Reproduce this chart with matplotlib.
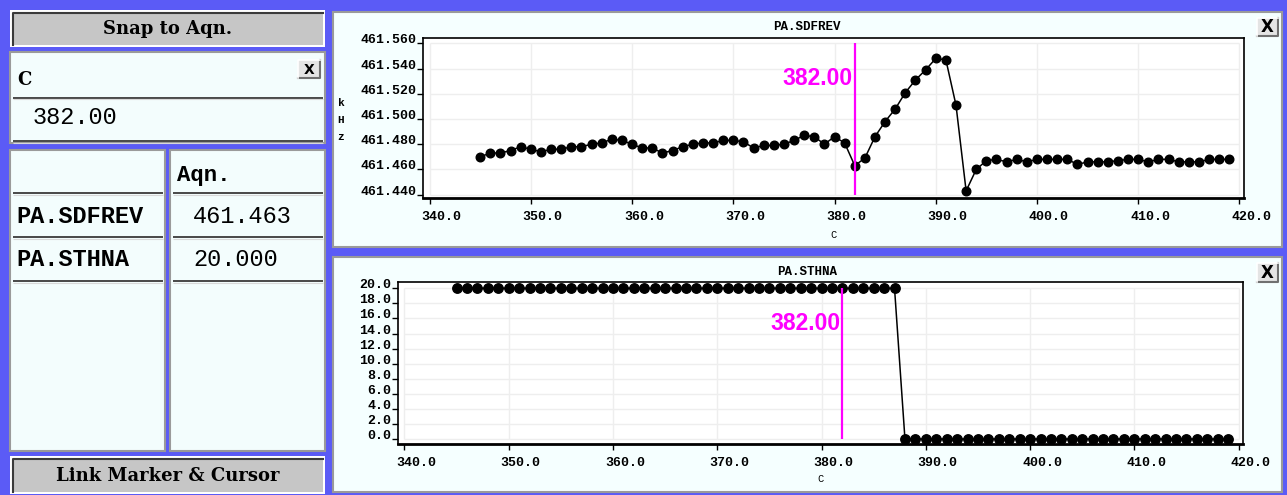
import matplotlib
matplotlib.use('Agg')
import matplotlib.pyplot as plt
from matplotlib.patches import Rectangle
from matplotlib.transforms import ScaledTranslation

plt.rcParams['font.family'] = ['Liberation Mono', 'DejaVu Sans']
plt.rcParams['font.weight'] = 'bold'

# cursor and readout table
cursor_x = 382.0
cursor_text = '382.00'
axis_name = 'C'
readout_header = 'Aqn.'
readout_names = ['PA.SDFREV', 'PA.STHNA']
readout_values = ['461.463', '20.000']

# samples (C)
sample_x = [345, 346, 347, 348, 349, 350, 351, 352, 353, 354, 355, 356, 357, 358, 359,
            360, 361, 362, 363, 364, 365, 366, 367, 368, 369, 370, 371, 372, 373, 374,
            375, 376, 377, 378, 379, 380, 381, 382, 383, 384, 385, 386, 387, 388, 389,
            390, 391, 392, 393, 394, 395, 396, 397, 398, 399, 400, 401, 402, 403, 404,
            405, 406, 407, 408, 409, 410, 411, 412, 413, 414, 415, 416, 417, 418, 419]

# PA.SDFREV, kHz
sdfrev = [461.470, 461.473, 461.473, 461.475, 461.478, 461.476, 461.474, 461.476, 461.476, 461.478,
          461.478, 461.480, 461.481, 461.484, 461.483, 461.480, 461.477, 461.477, 461.473, 461.475,
          461.478, 461.480, 461.481, 461.481, 461.483, 461.483, 461.482, 461.477, 461.479, 461.479,
          461.480, 461.483, 461.487, 461.486, 461.480, 461.486, 461.481, 461.463, 461.469, 461.486,
          461.498, 461.508, 461.521, 461.531, 461.539, 461.548, 461.547, 461.511, 461.443, 461.460,
          461.467, 461.468, 461.466, 461.468, 461.466, 461.468, 461.468, 461.468, 461.468, 461.464,
          461.466, 461.466, 461.466, 461.467, 461.468, 461.468, 461.466, 461.468, 461.468, 461.466,
          461.466, 461.466, 461.468, 461.468, 461.468]

# PA.STHNA
sthna = [20.0, 20.0, 20.0, 20.0, 20.0, 20.0, 20.0, 20.0, 20.0, 20.0, 20.0, 20.0, 20.0, 20.0, 20.0,
         20.0, 20.0, 20.0, 20.0, 20.0, 20.0, 20.0, 20.0, 20.0, 20.0, 20.0, 20.0, 20.0, 20.0, 20.0,
         20.0, 20.0, 20.0, 20.0, 20.0, 20.0, 20.0, 20.0, 20.0, 20.0, 20.0, 20.0, 20.0, 0.0, 0.0,
         0.0, 0.0, 0.0, 0.0, 0.0, 0.0, 0.0, 0.0, 0.0, 0.0, 0.0, 0.0, 0.0, 0.0, 0.0,
         0.0, 0.0, 0.0, 0.0, 0.0, 0.0, 0.0, 0.0, 0.0, 0.0, 0.0, 0.0, 0.0, 0.0, 0.0]

x_ticks = [340, 350, 360, 370, 380, 390, 400, 410, 420]
sdfrev_ticks = [461.44, 461.46, 461.48, 461.50, 461.52, 461.54, 461.56]
sthna_ticks = [0, 2, 4, 6, 8, 10, 12, 14, 16, 18, 20]

W, H = 1287, 495
BLUE = '#5b5bf6'
PANEL = '#f3fdfd'
MAGENTA = '#ff00ff'

fig = plt.figure(figsize=(W / 100, H / 100), dpi=100, facecolor=BLUE)
bg = fig.add_axes([0, 0, 1, 1])
bg.set_xlim(0, W)
bg.set_ylim(H, 0)
bg.axis('off')


def box(x0, y0, x1, y1, fc, ec='none', lw=0):
    bg.add_patch(Rectangle((x0, y0), x1 - x0, y1 - y0, facecolor=fc, edgecolor=ec, linewidth=lw))


def rule(y, x0, x1):
    bg.plot([x0, x1], [y, y], color='#3a3a3a', lw=1.3, solid_capstyle='butt')
    bg.plot([x0, x1], [y + 1.5, y + 1.5], color='#d8d8d8', lw=0.8, solid_capstyle='butt')


def button(x0, y0, x1, y1, label):
    box(x0, y0, x1, y1, 'white')
    box(x0 + 3, y0 + 3, x1 - 2, y1 - 2, '#c6c6c6')
    bg.plot([x0 + 3, x0 + 3, x1 - 2], [y1 - 2, y0 + 3, y0 + 3], color='#3a3a3a', lw=1.5)
    bg.text((x0 + x1) / 2, (y0 + y1) / 2 + 1, label, ha='center', va='center',
            fontsize=13, fontweight='bold', family='DejaVu Serif')


def panel(x0, y0, x1, y1, fc=PANEL):
    box(x0, y0, x1, y1, fc, '#9a9a9a', 1.5)


def close_box(x0, y0, x1, y1, size):
    box(x0, y0, x1, y1, '#e4e4e4')
    bg.plot([x0, x1, x1], [y1, y1, y0], color='#707070', lw=1.5)
    bg.plot([x0, x0, x1], [y1, y0, y0], color='white', lw=1.2)
    bg.text((x0 + x1) / 2, (y0 + y1) / 2 + 0.5, 'X', ha='center', va='center',
            fontsize=size, fontweight='bold', family='DejaVu Sans')


# left column
button(10, 10, 325, 47, 'Snap to Aqn.')
panel(10, 52, 325, 143)
close_box(298, 60, 320, 78, 10)
bg.text(17, 80, axis_name, ha='left', va='center', fontsize=13, family='DejaVu Serif')
rule(97.5, 12.5, 322.5)
bg.text(33, 118, cursor_text, ha='left', va='center', fontsize=17, fontweight='normal')
rule(141, 12.5, 322.5)

panel(10, 150, 165, 451)
panel(170, 150, 325, 451)
bg.text(177, 175, readout_header, ha='left', va='center', fontsize=16)
for y in [193.3, 237.3, 281]:
    rule(y, 12.5, 163)
    rule(y, 172.5, 322.5)
for i, (name, val) in enumerate(zip(readout_names, readout_values)):
    yy = 216.5 + 43.5 * i
    bg.text(16, yy, name, ha='left', va='center', fontsize=17)
    bg.text(193, yy, val, ha='left', va='center', fontsize=17, fontweight='normal')

button(10, 456, 325, 494, 'Link Marker & Cursor')

# right column: chart panels
panel(333, 11.5, 1281.5, 246.5, '#f5ffff')
panel(333, 256.5, 1281.5, 491.5, '#f5ffff')
close_box(1257, 18, 1278, 36, 12)
close_box(1257, 263, 1278, 281.5, 12)
bg.text(807, 27.5, 'PA.SDFREV', ha='center', va='center', fontsize=9)
bg.text(807, 272, 'PA.STHNA', ha='center', va='center', fontsize=9)
bg.text(341, 120, 'k\nH\nz', ha='center', va='center', fontsize=8, linespacing=1.9)


def chart(x0, y0, x1, y1, ys, yticks, yfmt, ylim, ms, xlab_y):
    ax = fig.add_axes([x0 / W, 1 - y1 / H, (x1 - x0) / W, (y1 - y0) / H])
    ax.set_facecolor('white')
    ax.set_xlim(339.35, 420.45)
    ax.set_ylim(*ylim)
    ax.hlines(yticks, x_ticks[0], x_ticks[-1], color='#eeeeee', lw=1, zorder=0)
    ax.vlines(x_ticks, yticks[0], yticks[-1], color='#eeeeee', lw=1, zorder=0)
    ax.plot(sample_x, ys, color='black', lw=1.1, marker='o', ms=ms, zorder=3)
    ax.vlines(cursor_x, yticks[0], yticks[-1], color=MAGENTA, lw=1.6, zorder=4)
    ax.annotate(cursor_text, xy=(cursor_x, 0.745), xycoords=('data', 'axes fraction'),
                xytext=(-1.5, 0), textcoords='offset points', ha='right', va='center',
                color=MAGENTA, fontsize=16.5, fontweight='bold', family='Liberation Sans', zorder=5)
    ax.set_xticks(x_ticks)
    ax.set_xticklabels([f'{t:.1f}' for t in x_ticks])
    ax.set_yticks(yticks)
    ax.set_yticklabels([yfmt.format(t) for t in yticks])
    ax.tick_params(length=4, width=1, labelsize=9.5, colors='black')
    ax.tick_params(axis='y', pad=0.5)
    ax.tick_params(axis='x', pad=5)
    shift = ScaledTranslation(-0.08, 0, fig.dpi_scale_trans)
    for lbl in ax.get_xticklabels():
        lbl.set_ha('left')
        lbl.set_transform(lbl.get_transform() + shift)
    for lbl in ax.get_yticklabels():
        lbl.set_va('baseline')
    ax.set_xlabel(axis_name, fontsize=7.5)
    ax.xaxis.set_label_coords(0.5, xlab_y)
    ax.xaxis.label.set_va('center')
    for s in ax.spines.values():
        s.set_linewidth(1.2)
    ax.spines['bottom'].set_linewidth(2)
    return ax


chart(423, 37.7, 1244, 198.3, sdfrev, sdfrev_ticks, '{:.3f}', (461.4371, 461.5645), 6.2, -0.2285)
chart(397.7, 282.3, 1243.3, 444.3, sthna, sthna_ticks, '{:.1f}', (-0.70, 20.80), 6.8, -0.216)

fig.savefig('out.png', dpi=100, facecolor=BLUE)
